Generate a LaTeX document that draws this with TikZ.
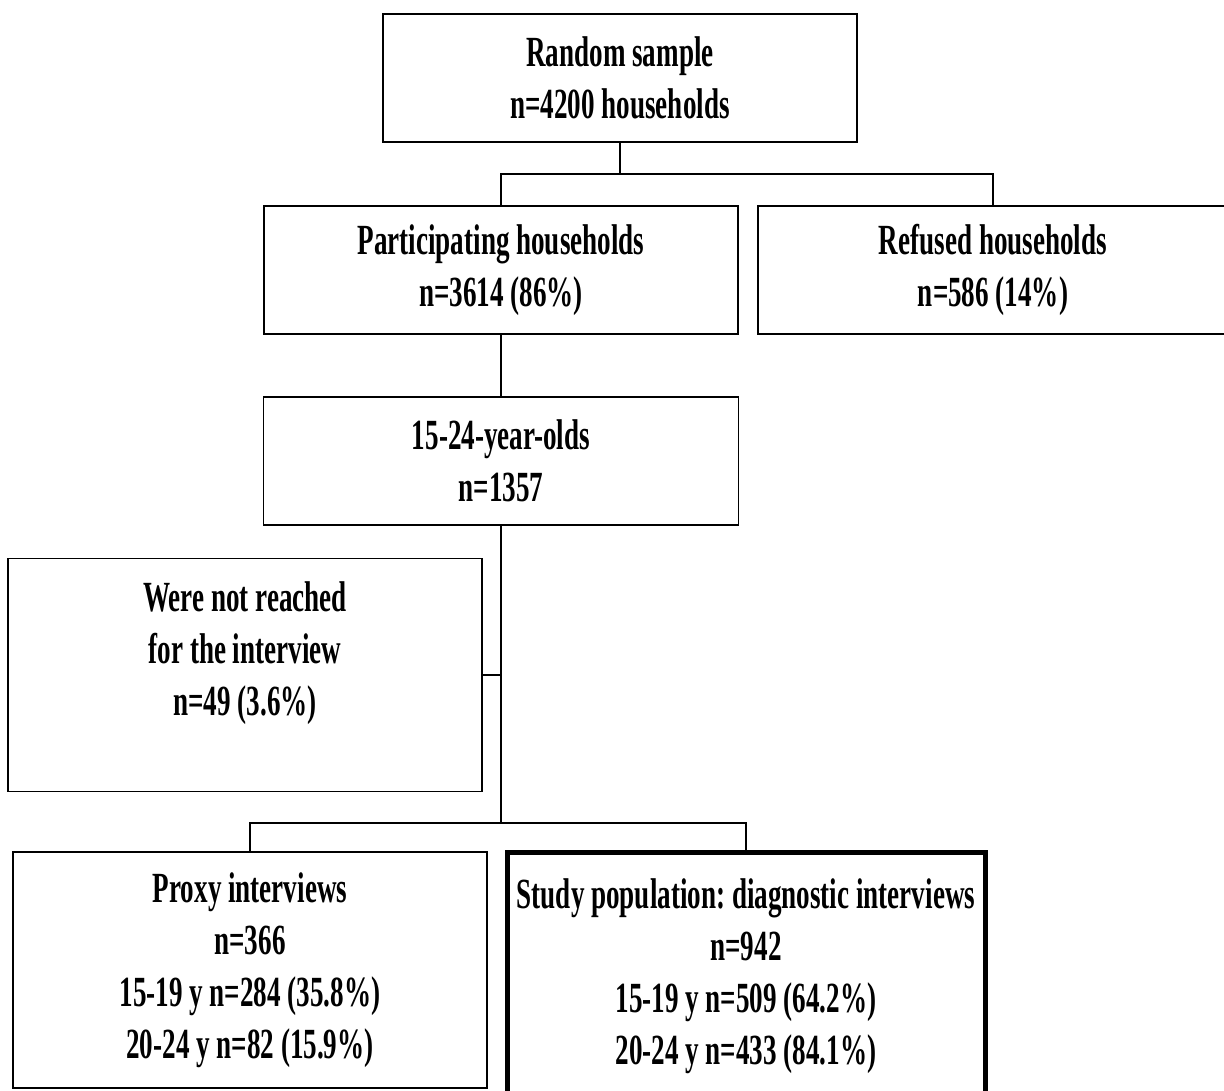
\documentclass[tikz,border=0pt]{standalone}
\usepackage{xcolor}
\usepackage{fontspec}
\setmainfont{Liberation Serif}[FakeStretch=0.63]
\usetikzlibrary{positioning}
\frenchspacing

\begin{document}
\begin{tikzpicture}[x=1pt, y=-1pt, node distance=20pt,
    box/.style={rectangle, draw, line width=1.8pt, minimum width=474pt, minimum height=128pt,
        inner sep=0pt, outer sep=0pt, align=center, font=\fontsize{43}{52}\selectfont\bfseries},
    link/.style={line width=1.2pt}]

                \clip (0,0) rectangle (1224,1091);

                % Nodes
                \node (rand) [box] at (620,78) {Random sample\\n=4200 households};
                \node (part) [box] at (501,270) {Participating households\\n=3614 (86\%)};
                \node[right=of part] (refd) [box, minimum width=470pt] {Refused households\\n=586 (14\%)};
                \node[below=63pt of part] (ages) [box, minimum width=475pt] {15-24-year-olds\\n=1357};
                \node (miss) [box, minimum height=233pt] at (245,675) {Were not reached\\for the interview\\n=49 (3.6\%)\\~};
                \node (prox) [box, minimum height=236pt] at (250,970) {Proxy interviews\\n=366\\15-19 y n=284 (35.8\%)\\20-24 y n=82 (15.9\%)};
                \node[right=of prox.north east, anchor=north west] (stud) [box, line width=5pt, minimum width=478pt, minimum height=248pt] {Study population: diagnostic interviews\\n=942\\15-19 y n=509 (64.2\%)\\20-24 y n=433 (84.1\%)};

                % Connectors
                \coordinate (fork1) at (620,174);
                \coordinate (fork2) at (501,823);
                \draw[link] (rand.south) -- (fork1);
                \draw[link] (part.north) |- (fork1);
                \draw[link] (refd.north) |- (fork1);
                \draw[link] (part.south) -- (ages.north);
                \draw[link] (ages.south) -- (fork2);
                \draw[link] (miss.east) -- (miss.east -| fork2);
                \draw[link] (prox.north) |- (fork2);
                \draw[link] (stud.north) |- (fork2);

\end{tikzpicture}
\end{document}
